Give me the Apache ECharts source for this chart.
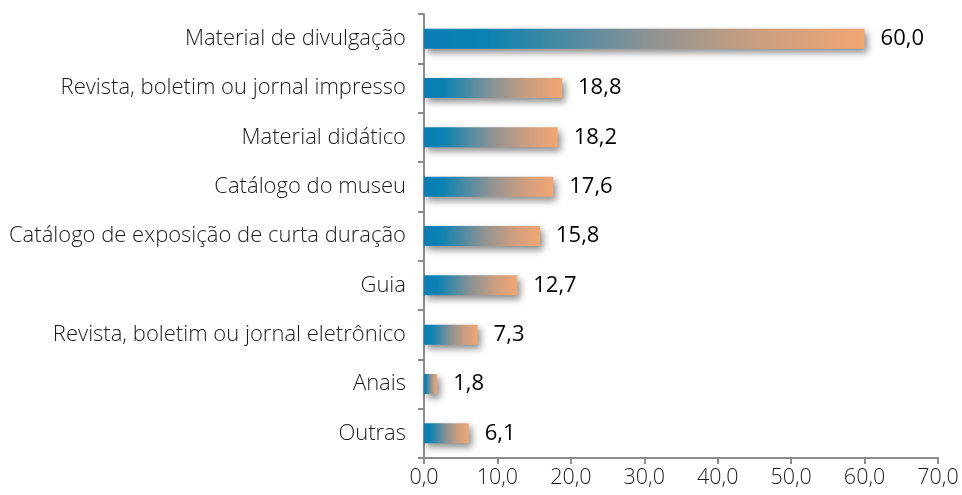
<!DOCTYPE html>
<html>
<head>
<meta charset="utf-8">
<script src="https://cdn.jsdelivr.net/npm/echarts@6/dist/echarts.min.js"></script>
<style>
  html, body { margin: 0; padding: 0; background: #fff; }
  #chart { width: 962px; height: 495px; }
</style>
</head>
<body>
<div id="chart"></div>
<script>
// Categories listed top to bottom
const categories = [
  'Material de divulgação',
  'Revista, boletim ou jornal impresso',
  'Material didático',
  'Catálogo do museu',
  'Catálogo de exposição de curta duração',
  'Guia',
  'Revista, boletim ou jornal eletrônico',
  'Anais',
  'Outras'
];
const values = [60.0, 18.8, 18.2, 17.6, 15.8, 12.7, 7.3, 1.8, 6.1];

const axisMin = 0;
const axisMax = 70;
const axisStep = 10;

const fmt = v => v.toFixed(1).replace('.', ',');
const FONT = '"Open Sans"';

const chart = echarts.init(document.getElementById('chart'));
chart.setOption({
  animation: false,
  grid: { left: 424, right: 24, top: 14, bottom: 37 },
  xAxis: {
    type: 'value',
    min: axisMin,
    max: axisMax,
    interval: axisStep,
    axisLine: { show: true, lineStyle: { color: '#8c8c8c', width: 2 } },
    axisTick: { show: true, length: 6, lineStyle: { color: '#8c8c8c', width: 2 } },
    splitLine: { show: false },
    axisLabel: { formatter: fmt, color: '#1a1a1a', fontSize: 21.5, fontWeight: 300, fontFamily: FONT, margin: 9 }
  },
  yAxis: {
    type: 'category',
    inverse: true,
    data: categories,
    axisLine: { show: true, lineStyle: { color: '#8c8c8c', width: 2 } },
    axisTick: { show: true, length: 6, lineStyle: { color: '#8c8c8c', width: 2 } },
    axisLabel: { color: '#1a1a1a', fontSize: 22, fontWeight: 300, fontFamily: FONT, margin: 18 }
  },
  series: [{
    type: 'bar',
    data: values,
    barWidth: 20,
    itemStyle: {
      color: new echarts.graphic.LinearGradient(0, 0, 1, 0, [
        { offset: 0, color: '#0a7db5' },
        { offset: 0.14, color: '#0a82b2' },
        { offset: 0.5, color: '#8a9294' },
        { offset: 0.75, color: '#c99e80' },
        { offset: 1, color: '#f2a672' }
      ]),
      shadowColor: 'rgba(0,0,0,0.45)',
      shadowBlur: 7,
      shadowOffsetX: 3,
      shadowOffsetY: 4
    },
    label: {
      show: true,
      position: 'right',
      distance: 16,
      formatter: p => fmt(p.value),
      color: '#000',
      fontSize: 22,
      fontFamily: FONT
    }
  }]
});
</script>
</body>
</html>
